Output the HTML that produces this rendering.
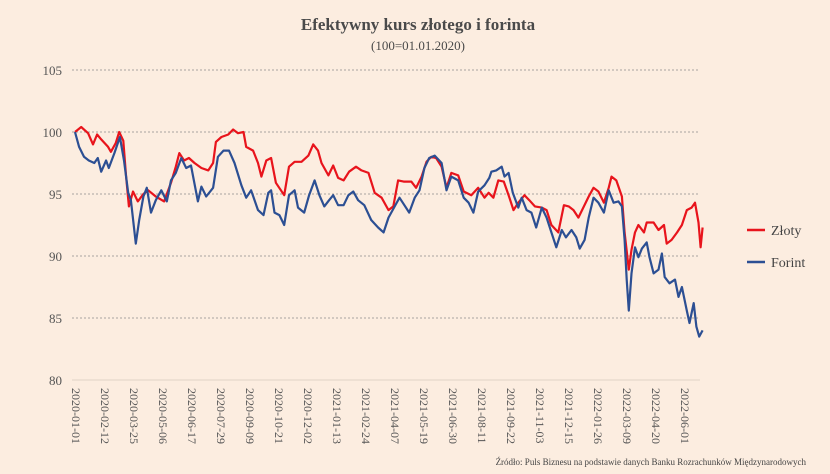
<!DOCTYPE html>
<html><head><meta charset="utf-8"><style>
body{margin:0;background:#fcede0;}
svg{display:block;font-family:"Liberation Serif",serif;}
</style></head><body>
<svg id="chart" width="830" height="474" viewBox="0 0 830 474">
<rect x="0" y="0" width="830" height="474" fill="#fcede0"/>
<text x="418" y="30" text-anchor="middle" font-size="17" font-weight="bold" fill="#4a4a4a">Efektywny kurs złotego i forinta</text>
<text x="418" y="50" text-anchor="middle" font-size="13" fill="#4a4a4a">(100=01.01.2020)</text>
<g id="grid"></g>
<g id="xticks"></g>
<g id="series"></g>
<g>
<line x1="747" y1="230" x2="765" y2="230" stroke="#e8141c" stroke-width="2.5"/>
<text x="771" y="235" font-size="14" fill="#444">Złoty</text>
<line x1="747" y1="262" x2="765" y2="262" stroke="#2c4f93" stroke-width="2.5"/>
<text x="771" y="267" font-size="14" fill="#444">Forint</text>
</g>
<text x="806" y="465" text-anchor="end" font-size="9" fill="#444">Źródło: Puls Biznesu na podstawie danych Banku Rozrachunków Międzynarodowych</text>
</svg>
<script>
const yTicks=[80,85,90,95,100,105];
const xTickLabels=["2020-01-01","2020-02-12","2020-03-25","2020-05-06","2020-06-17","2020-07-29","2020-09-09","2020-10-21","2020-12-02","2021-01-13","2021-02-24","2021-04-07","2021-05-19","2021-06-30","2021-08-11","2021-09-22","2021-11-03","2021-12-15","2022-01-26","2022-03-09","2022-04-20","2022-06-01"];
const zlotyDays=[0,9,19,26,32,38,48,52,59,64,70,74,78,84,91,99,106,117,129,139,146,151,158,165,173,183,193,200,204,212,222,229,236,244,248,258,265,270,277,284,291,303,310,318,328,338,345,352,357,367,374,381,389,397,407,415,425,434,444,454,461,468,476,487,494,502,509,516,523,531,538,545,555,563,574,584,593,599,606,613,621,628,635,642,651,658,666,676,683,690,700,708,715,722,729,737,744,751,758,766,773,777,784,792,796,802,806,811,816,824,828,838,845,853,857,864,872,879,886,893,898,903,906,909];
const zlotyValues=[100,100.4,99.9,99.0,99.8,99.4,98.8,98.4,99.1,100,99.3,96.4,94,95.2,94.4,95,95.3,94.8,94.4,95.9,97.2,98.3,97.7,97.9,97.5,97.1,96.9,97.5,99.2,99.6,99.8,100.2,99.9,100,98.8,98.5,97.5,96.4,97.7,97.9,95.9,94.9,97.2,97.6,97.6,98.1,99,98.5,97.5,96.5,97.3,96.3,96.1,96.8,97.2,96.9,96.7,95.1,94.7,93.7,94,96.1,96,96,95.5,96.4,97.6,98,97.9,97.2,95.5,96.7,96.5,95.2,94.9,95.5,94.7,95.1,94.7,96.1,96,94.9,93.7,94.3,94.9,94.5,94,93.9,93.7,92.5,91.9,94.1,94,93.7,93.1,94,94.8,95.5,95.2,94.3,95.5,96.4,96.1,94.8,91.9,88.9,90.5,91.9,92.5,91.9,92.7,92.7,92.1,92.5,91,91.3,91.9,92.5,93.7,93.9,94.3,92.7,90.7,92.3];
const forintDays=[0,6,13,20,28,33,38,45,49,57,65,71,77,81,88,93,99,104,110,117,125,133,139,146,154,161,168,178,183,190,200,207,215,223,231,241,248,255,265,273,280,284,289,296,303,310,318,323,332,339,347,354,361,368,374,381,389,396,403,410,419,429,439,447,454,463,470,477,484,492,499,506,513,521,531,538,545,555,563,570,577,584,593,600,603,610,618,622,628,634,642,647,654,661,668,676,683,690,697,705,711,719,726,731,738,744,751,758,766,773,780,787,792,796,799,802,806,811,816,821,828,832,838,845,850,854,861,869,874,879,886,890,896,900,904,909];
const forintValues=[100,98.8,98,97.7,97.5,97.9,96.8,97.7,97.1,98.3,99.6,97.7,95.1,94.5,91,92.9,94.8,95.5,93.5,94.5,95.3,94.4,96.1,96.7,97.9,97.1,97.3,94.4,95.6,94.8,95.5,98,98.5,98.5,97.5,95.7,94.7,95.3,93.7,93.3,95.1,95.3,93.5,93.3,92.5,94.9,95.3,93.9,93.5,94.9,96.1,94.9,94,94.5,94.9,94.1,94.1,94.9,95.2,94.5,94.1,92.9,92.3,91.9,93.1,94,94.7,94.1,93.5,94.7,95.3,97.1,97.9,98.1,97.5,95.3,96.4,96.1,94.7,94.3,93.5,95.2,95.7,96.3,96.8,96.9,97.2,96.4,96.7,95.1,93.9,94.7,93.7,93.5,92.3,93.9,93.1,91.9,90.7,92.1,91.5,92.1,91.5,90.6,91.3,93.1,94.7,94.3,93.5,95.3,94.3,94.4,94,91.3,88.1,85.6,88.6,90.7,89.9,90.6,91.1,89.9,88.6,88.9,90.2,88.3,87.8,88.1,86.7,87.5,85.6,84.6,86.2,84.3,83.5,84];

const NS="http://www.w3.org/2000/svg";
const plotL=72, plotR=700, x0=75, pxPerDay=29/42;
const yScale=v=>380-(v-80)*12.4;
const xScale=d=>x0+d*pxPerDay;
const grid=document.getElementById('grid');
yTicks.forEach(t=>{
  const l=document.createElementNS(NS,'line');
  
  
  l.setAttribute('x1',plotL);l.setAttribute('x2',plotR);
  l.setAttribute('y1',yScale(t));l.setAttribute('y2',yScale(t));
  if(t===80){l.setAttribute('stroke','#e6d8cb');l.setAttribute('stroke-width','1.2');}
  else{l.setAttribute('stroke','#8a8a8a');l.setAttribute('stroke-width','0.8');l.setAttribute('stroke-dasharray','2,2');}
  grid.appendChild(l);
  const tx=document.createElementNS(NS,'text');
  
  
  tx.setAttribute('x',62);tx.setAttribute('y',yScale(t)+5);
  tx.setAttribute('text-anchor','end');tx.setAttribute('font-size','13');tx.setAttribute('fill','#555');
  tx.textContent=t;grid.appendChild(tx);
});
const xt=document.getElementById('xticks');
xTickLabels.forEach((s,i)=>{
  const x=xScale(i*42)+1;
  const tx=document.createElementNS(NS,'text');
  
  
  tx.setAttribute('transform','translate('+(x-4)+',388) rotate(90)');
  tx.setAttribute('font-size','12');tx.setAttribute('fill','#555');
  tx.textContent=s;xt.appendChild(tx);
});
const ser=document.getElementById('series');
function drawLine(days,vals,color,name){
  const p=document.createElementNS(NS,'path');
  
  
  p.setAttribute('d',days.map((d,i)=>(i?'L':'M')+xScale(d).toFixed(1)+','+yScale(vals[i]).toFixed(1)).join(''));
  p.setAttribute('fill','none');p.setAttribute('stroke',color);
  p.setAttribute('stroke-width','2.2');p.setAttribute('stroke-linejoin','round');
  ser.appendChild(p);
}
drawLine(zlotyDays,zlotyValues,'#e8141c','zloty-line');
drawLine(forintDays,forintValues,'#2c4f93','forint-line');
</script>
</body></html>
